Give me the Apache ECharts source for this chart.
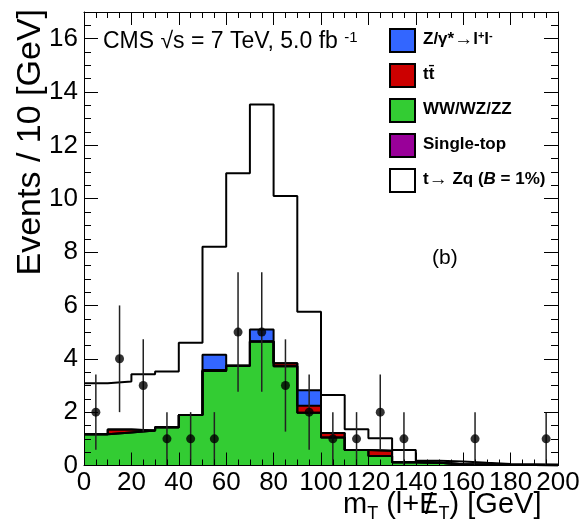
<!DOCTYPE html>
<html><head><meta charset="utf-8">
<script src="https://cdn.jsdelivr.net/npm/echarts@6/dist/echarts.min.js"></script>
<style>html,body{margin:0;padding:0;background:#fff}#c{width:581px;height:526px}</style>
</head><body><div id="c"></div>
<script>
// ---- data ----
const binLow     = [0,10,20,30,40,50,60,70,80,90,100,110,120,130,140,150,160,170,180,190];
const binCenters = [5,15,25,35,45,55,65,75,85,95,105,115,125,135,145,155,165,175,185,195];
const xMaxEdge = 200;
const wwwzzz    = [1.17,1.24,1.31,1.43,1.89,3.54,3.74,4.65,3.72,1.98,1.05,0.58,0.36,0.12,0.10,0.05,0.04,0.02,0.02,0.01];
const singleTop = [0,0,0,0,0,0,0,0,0,0,0,0,0,0,0,0,0,0,0,0];
const ttbar     = [0,0.11,0,0,0,0.04,0,0,0.11,0.26,0.17,0,0.19,0,0,0,0,0,0,0];
const zgamma    = [0,0,0,0,0,0.57,0,0.45,0,0.58,0,0,0,0,0,0,0,0,0,0];
const signalTZq = [1.91,1.80,2.11,2.09,2.71,4.05,7.22,8.43,6.27,2.94,1.42,0.78,0.47,0.46,0.08,0.10,0.06,0.04,0.03,0.03];
const dataCounts = [2,4,3,1,1,1,5,5,3,2,1,1,2,1,0,0,1,0,0,1];
const dataErrors = [1.41,2,1.73,1,1,1,2.24,2.24,1.73,1.41,1,1,1.41,1,0,0,1,0,0,1];
const xTickLabels = ['0','20','40','60','80','100','120','140','160','180','200'];
const yTickLabels = ['0','2','4','6','8','10','12','14','16'];

const F = '"Liberation Sans", Arial, Helvetica, sans-serif';
const nameZ = 'Z/γ*→l+l-', nameTT = 'tt̄', nameWW = 'WW/WZ/ZZ', nameST = 'Single-top', nameSig = 't→ Zq (B = 1%)';

// cumulative stack (bottom -> top)
const stackOrder = [wwwzzz, singleTop, ttbar, zgamma, signalTZq];
const cums = [];
let run = binLow.map(() => 0);
stackOrder.forEach(arr => { run = run.map((v, i) => v + arr[i]); cums.push(run.slice()); });
function stepData(vals) {
  const d = vals.map((v, i) => [binLow[i], v]);
  d.push([xMaxEdge, vals[vals.length - 1]]);
  return d;
}
const layers = [
  { name: nameSig, vals: cums[4], color: '#ffffff' },
  { name: nameZ,   vals: cums[3], color: '#3366ff' },
  { name: nameTT,  vals: cums[2], color: '#cc0000' },
  { name: nameST,  vals: cums[1], color: '#990099' },
  { name: nameWW,  vals: cums[0], color: '#33cc33' }
];
const series = layers.map(l => ({
  type: 'line', name: l.name, step: 'end', data: stepData(l.vals),
  symbol: 'none', showSymbol: false, silent: true,
  lineStyle: { color: '#000', width: 2 },
  areaStyle: { color: l.color, opacity: 1, origin: 'start' },
  itemStyle: { color: l.color }, z: 2
}));
const pts = [];
binCenters.forEach((x, i) => { if (dataCounts[i] > 0) pts.push([x, dataCounts[i], dataErrors[i]]); });
series.push({
  type: 'custom', name: 'errbars', data: pts, z: 4, silent: true,
  encode: { x: 0, y: 1 },
  renderItem: function (params, api) {
    const x = api.value(0), y = api.value(1), e = api.value(2);
    const p1 = api.coord([x, y - e]), p2 = api.coord([x, y + e]);
    return { type: 'line', shape: { x1: p1[0], y1: p1[1], x2: p2[0], y2: p2[1] },
             style: { stroke: '#222', lineWidth: 1.5 } };
  }
});
series.push({
  type: 'scatter', name: 'data', data: pts.map(p => [p[0], p[1]]), symbol: 'circle',
  symbolSize: 9, itemStyle: { color: '#000' }, z: 5, silent: true
});

const tickCol = { color: '#000', width: 1 };
function xAx(pos, labels) {
  return {
    type: 'value', position: pos, min: 0, max: 200, interval: 20, z: 10,
    axisLine: { show: true, onZero: false, lineStyle: { color: '#000', width: 1 } },
    axisTick: { show: true, inside: true, length: 13, lineStyle: tickCol },
    minorTick: { show: true, splitNumber: 4, length: 6, lineStyle: tickCol },
    splitLine: { show: false }, minorSplitLine: { show: false },
    axisLabel: labels ? { show: true, fontFamily: F, fontSize: 26, color: '#000', margin: 4,
      formatter: v => xTickLabels.indexOf(String(v)) >= 0 ? String(v) : '' } : { show: false }
  };
}
function yAx(pos, interval, len, labels, line) {
  return {
    type: 'value', position: pos, min: 0, max: 17, interval: interval, z: 10,
    axisLine: { show: line, onZero: false, lineStyle: { color: '#000', width: 1 } },
    axisTick: { show: true, inside: true, length: len, lineStyle: tickCol },
    splitLine: { show: false },
    axisLabel: labels ? { show: true, fontFamily: F, fontSize: 26, color: '#000', margin: 6, showMaxLabel: false,
      formatter: v => yTickLabels.indexOf(String(v)) >= 0 ? String(v) : '' } : { show: false }
  };
}

const legendRich = {
  a: { fontFamily: F, fontSize: 17, fontWeight: 'bold', color: '#000', lineHeight: 20, verticalAlign: 'top', padding: [0,0,0,3] },
  b: { fontFamily: F, fontSize: 17, fontWeight: 'bold', color: '#000', lineHeight: 20, verticalAlign: 'top' },
  r: { fontFamily: F, fontSize: 19, fontWeight: 'normal', color: '#000', lineHeight: 20, verticalAlign: 'top' },
  s: { fontFamily: F, fontSize: 11, fontWeight: 'bold', color: '#000', lineHeight: 11, verticalAlign: 'top' },
  i: { fontFamily: F, fontSize: 17, fontWeight: 'bold', fontStyle: 'italic', color: '#000', lineHeight: 20, verticalAlign: 'top' }
};
const legendText = {};
legendText[nameZ] = '{a|Z/γ*}{r|→}{b|l}{s|+}{b|l}{s|-}';
legendText[nameTT] = '{a|tt̄}';
legendText[nameWW] = '{a|WW/WZ/ZZ}';
legendText[nameST] = '{a|Single-top}';
legendText[nameSig] = '{a|t}{r|→}{b| Zq (}{i|B}{b| = 1%)}';
const legendColors = {};
legendColors[nameZ] = '#3366ff'; legendColors[nameTT] = '#cc0000'; legendColors[nameWW] = '#33cc33';
legendColors[nameST] = '#990099'; legendColors[nameSig] = '#ffffff';

const option = {
  animation: false,
  backgroundColor: '#fff',
  grid: { left: 84, right: 23, top: 12, bottom: 60.5, containLabel: false, outerBoundsMode: 'none' },
  xAxis: [xAx('bottom', true), xAx('top', false)],
  yAxis: [yAx('left', 2, 14, true, true), yAx('left', 0.5, 7, false, false),
          yAx('right', 2, 14, false, true), yAx('right', 0.5, 7, false, false)],
  legend: {
    orient: 'vertical', left: 389, top: 28, itemWidth: 25, itemHeight: 23, itemGap: 10,
    selectedMode: false, padding: 0,
    data: [nameZ, nameTT, nameWW, nameST, nameSig].map(n => ({
      name: n, icon: 'rect',
      itemStyle: { color: legendColors[n], borderColor: '#000', borderWidth: 2 }
    })),
    formatter: n => legendText[n],
    textStyle: { fontFamily: F, fontSize: 17, fontWeight: 'bold', color: '#000', rich: legendRich }
  },
  graphic: [
    { type: 'text', x: 103, y: 30, z: 20, style: {
      text: '{a|CMS √s = 7 TeV, 5.0 fb }{s|-1}',
      rich: { a: { fontFamily: F, fontSize: 23, lineHeight: 26, verticalAlign: 'top', fill: '#000' },
              s: { fontFamily: F, fontSize: 15, lineHeight: 15, verticalAlign: 'top', fill: '#000' } } } },
    { type: 'text', x: 432, y: 258, z: 20, style: {
      text: '(b)', fontFamily: F, fontSize: 21, fill: '#000', verticalAlign: 'middle', align: 'left' } },
    { type: 'text', x: 343, y: 490, z: 20, style: {
      text: '{a|m}{t|T}{a| (l+E}{t|T}{a|) [GeV]}',
      rich: { a: { fontFamily: F, fontSize: 29, lineHeight: 32, verticalAlign: 'top', fill: '#000' },
              t: { fontFamily: F, fontSize: 18, lineHeight: 18, padding: [15,0,0,0], verticalAlign: 'top', fill: '#000' } } } },
    { type: 'text', x: 425, y: 490, z: 21, style: {
      text: '/', fontFamily: F, fontSize: 29, lineHeight: 32, fill: '#000', align: 'left', verticalAlign: 'top' } },
    { type: 'text', x: 31, y: 9, rotation: Math.PI / 2, z: 20, style: {
      text: 'Events / 10 [GeV]', fontFamily: F, fontSize: 34, fill: '#000', align: 'right', verticalAlign: 'middle' } }
  ],
  series: series
};
const chart = echarts.init(document.getElementById('c'), null, { renderer: 'canvas' });
chart.setOption(option);
</script></body></html>
